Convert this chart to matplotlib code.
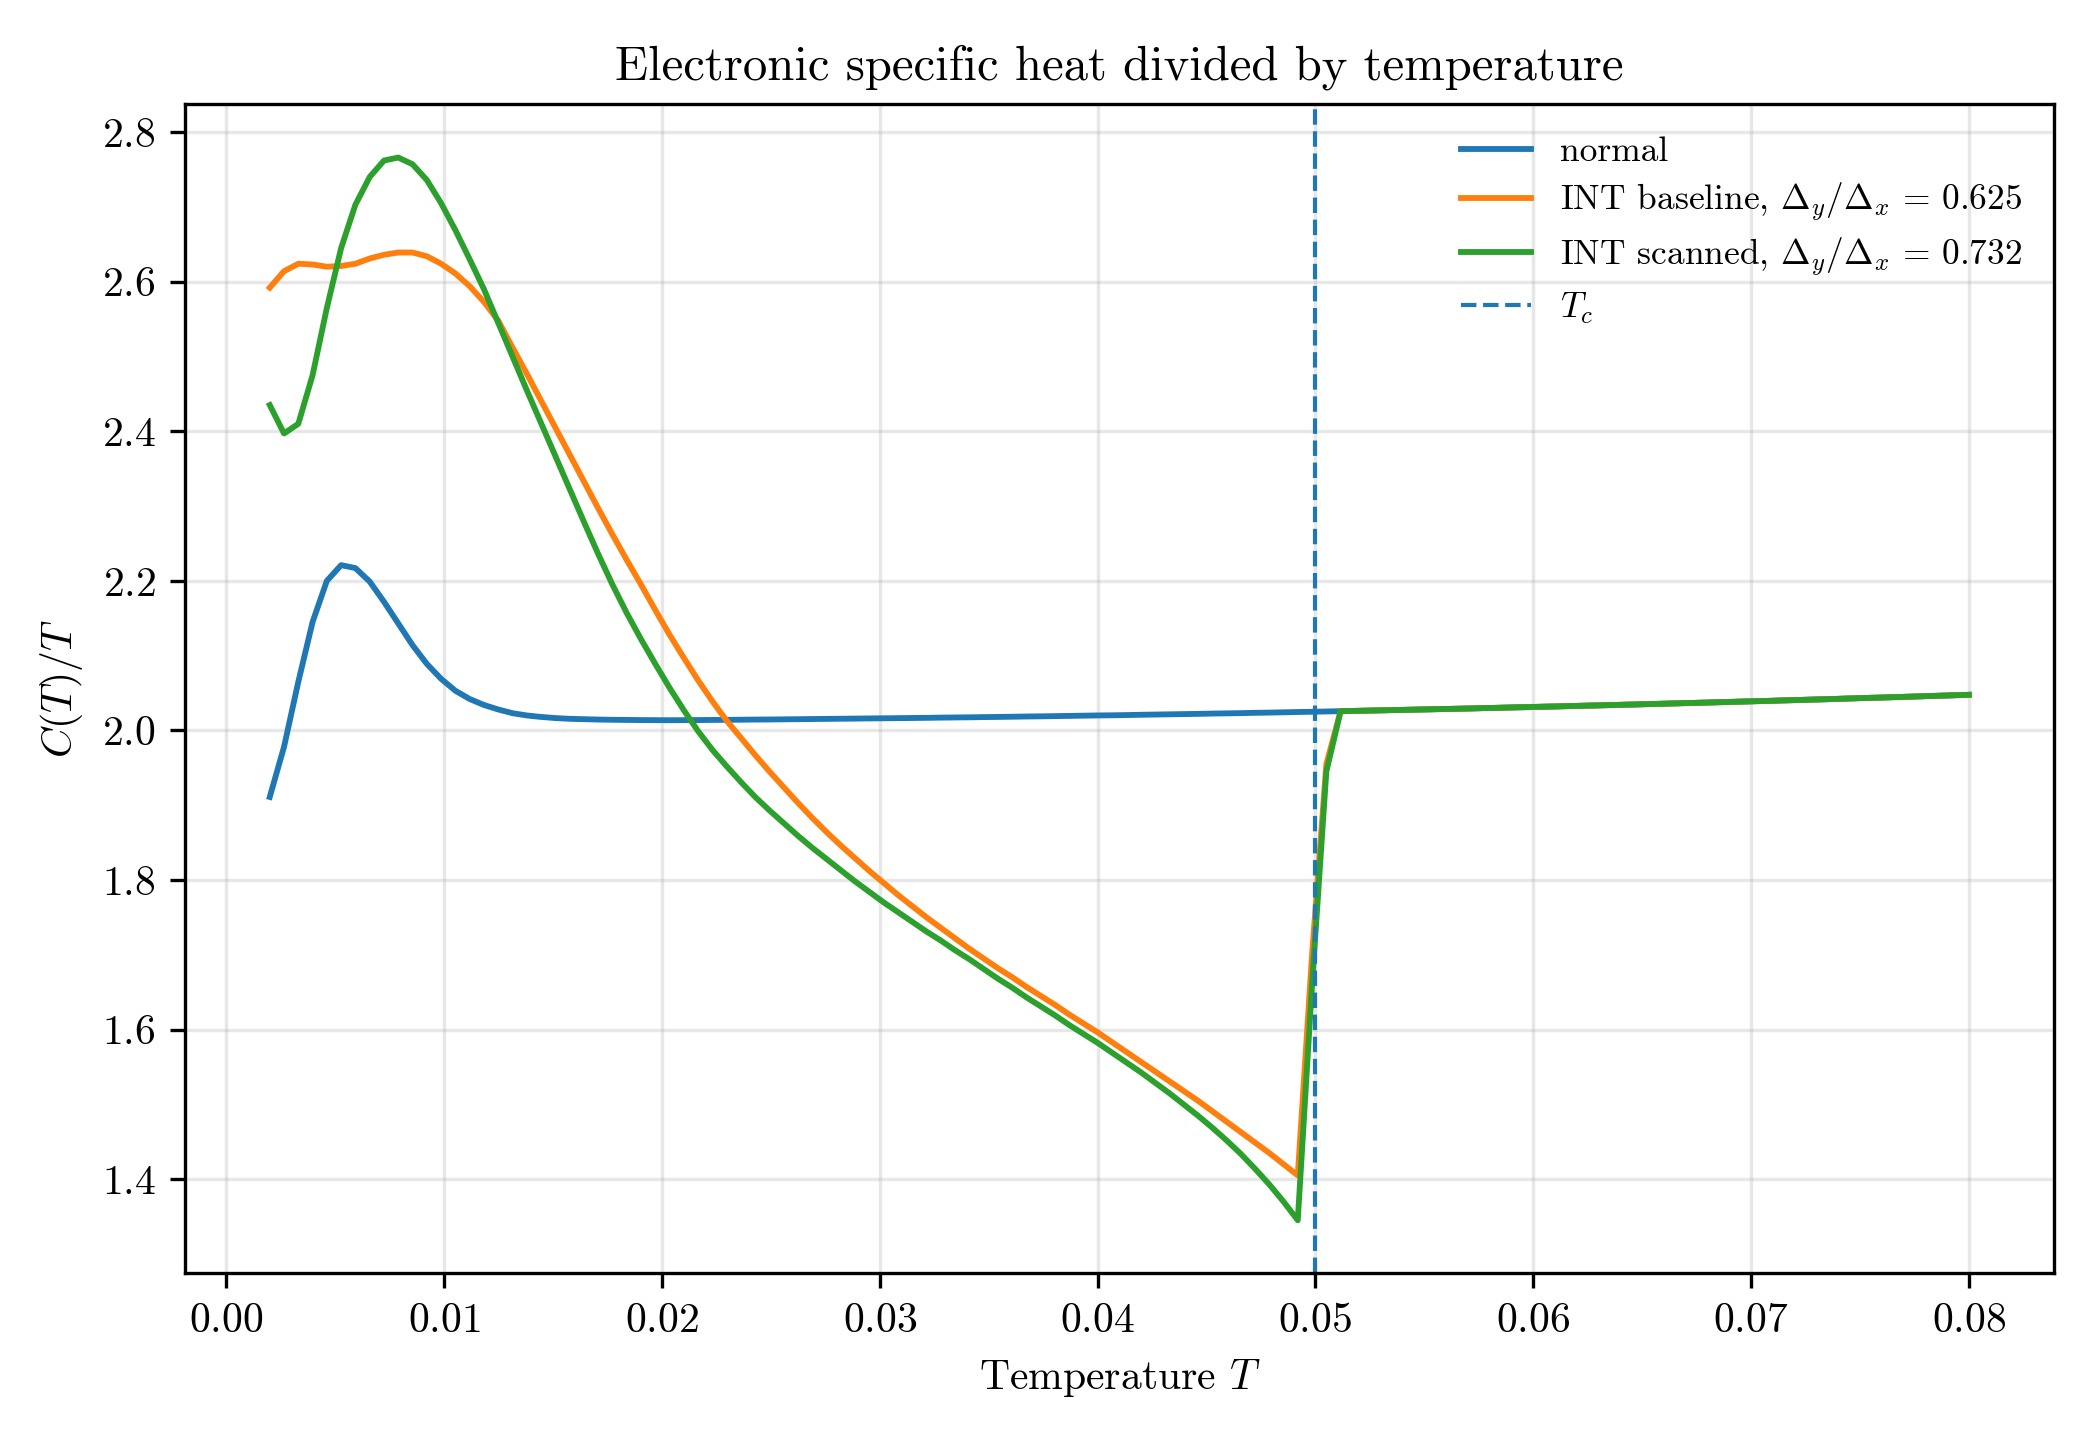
import numpy as np
import matplotlib
matplotlib.use("Agg")
import matplotlib.pyplot as plt

plt.rcParams.update({
    "font.family": "serif",
    "font.serif": ["cmr10"],
    "mathtext.fontset": "cm",
    "axes.formatter.use_mathtext": True,
    "font.size": 10,
})

# temperature grid and critical temperature
T = np.linspace(0.002, 0.08, 120)
Tc = 0.05

# normal state C/T
normal = [1.911, 1.978, 2.065, 2.145, 2.200, 2.221, 2.217, 2.199, 2.172, 2.143,
          2.114, 2.089, 2.069, 2.053, 2.042, 2.034, 2.028, 2.023, 2.020, 2.018,
          2.0165, 2.0155, 2.0150, 2.0145, 2.0142, 2.0140, 2.0138, 2.0137, 2.0136, 2.0137,
          2.0138, 2.0140, 2.0141, 2.0143, 2.0145, 2.0146, 2.0148, 2.0150, 2.0152, 2.0154,
          2.0156, 2.0158, 2.0160, 2.0162, 2.0164, 2.0166, 2.0168, 2.0171, 2.0173, 2.0175,
          2.0178, 2.0180, 2.0183, 2.0186, 2.0188, 2.0191, 2.0194, 2.0197, 2.0200, 2.0202,
          2.0205, 2.0209, 2.0212, 2.0215, 2.0218, 2.0221, 2.0225, 2.0228, 2.0231, 2.0235,
          2.0238, 2.0242, 2.0246, 2.0249, 2.0253, 2.0257, 2.0261, 2.0265, 2.0269, 2.0273,
          2.0277, 2.0281, 2.0285, 2.0289, 2.0293, 2.0298, 2.0302, 2.0307, 2.0311, 2.0316,
          2.0320, 2.0325, 2.0330, 2.0334, 2.0339, 2.0344, 2.0349, 2.0354, 2.0359, 2.0364,
          2.0369, 2.0374, 2.0379, 2.0385, 2.0390, 2.0395, 2.0401, 2.0406, 2.0412, 2.0417,
          2.0423, 2.0429, 2.0435, 2.0440, 2.0446, 2.0452, 2.0458, 2.0464, 2.0470, 2.0476]

# superconducting curves below the transition (first 75 temperatures);
# above that they lie on the normal curve
baseline_sc = [2.592, 2.614, 2.624, 2.623, 2.620, 2.621, 2.624, 2.631, 2.636, 2.639,
               2.639, 2.634, 2.624, 2.611, 2.594, 2.573, 2.548, 2.512, 2.477, 2.441,
               2.405, 2.369, 2.333, 2.297, 2.262, 2.228, 2.195, 2.161, 2.128, 2.097,
               2.067, 2.039, 2.013, 1.990, 1.967, 1.945, 1.924, 1.903, 1.883, 1.864,
               1.846, 1.829, 1.812, 1.796, 1.780, 1.765, 1.750, 1.736, 1.722, 1.708,
               1.695, 1.682, 1.670, 1.657, 1.645, 1.633, 1.620, 1.608, 1.596, 1.583,
               1.570, 1.557, 1.544, 1.531, 1.518, 1.505, 1.491, 1.477, 1.463, 1.449,
               1.435, 1.420, 1.405, 1.700, 1.955]

scanned_sc = [2.435, 2.397, 2.410, 2.475, 2.565, 2.645, 2.703, 2.740, 2.762, 2.766,
              2.757, 2.736, 2.705, 2.669, 2.630, 2.590, 2.545, 2.500, 2.455, 2.411,
              2.367, 2.323, 2.279, 2.236, 2.195, 2.157, 2.122, 2.089, 2.057, 2.027,
              1.999, 1.974, 1.952, 1.931, 1.911, 1.893, 1.876, 1.859, 1.843, 1.828,
              1.813, 1.798, 1.784, 1.770, 1.757, 1.744, 1.731, 1.719, 1.706, 1.694,
              1.681, 1.668, 1.656, 1.643, 1.631, 1.619, 1.606, 1.594, 1.582, 1.569,
              1.556, 1.543, 1.529, 1.515, 1.500, 1.485, 1.469, 1.452, 1.434, 1.414,
              1.393, 1.370, 1.345, 1.660, 1.945]

n_sc = len(baseline_sc)
baseline = np.concatenate([baseline_sc, normal[n_sc:]])
scanned = np.concatenate([scanned_sc, normal[n_sc:]])

fig, ax = plt.subplots(figsize=(7, 4.8), dpi=300)

ax.plot(T, normal, lw=1.4, label="normal")
ax.plot(T, baseline, lw=1.4, label=r"INT baseline, $\Delta_y/\Delta_x \,=\, 0.625$")
ax.plot(T, scanned, lw=1.4, label=r"INT scanned, $\Delta_y/\Delta_x \,=\, 0.732$")
ax.axvline(Tc, color="C0", ls="--", lw=1.0, label=r"$T_c$")

ax.set_xlabel(r"Temperature $T$")
ax.set_ylabel(r"$C(T)/T$")
ax.set_title("Electronic specific heat divided by temperature", fontsize=11.7)
ax.grid(True, alpha=0.3)
ax.legend(frameon=False, fontsize=8.5, labelspacing=0.36, loc="upper right")

fig.subplots_adjust(left=0.088, right=0.978, top=0.9275, bottom=0.1157)
fig.savefig("out.png", dpi=300)
